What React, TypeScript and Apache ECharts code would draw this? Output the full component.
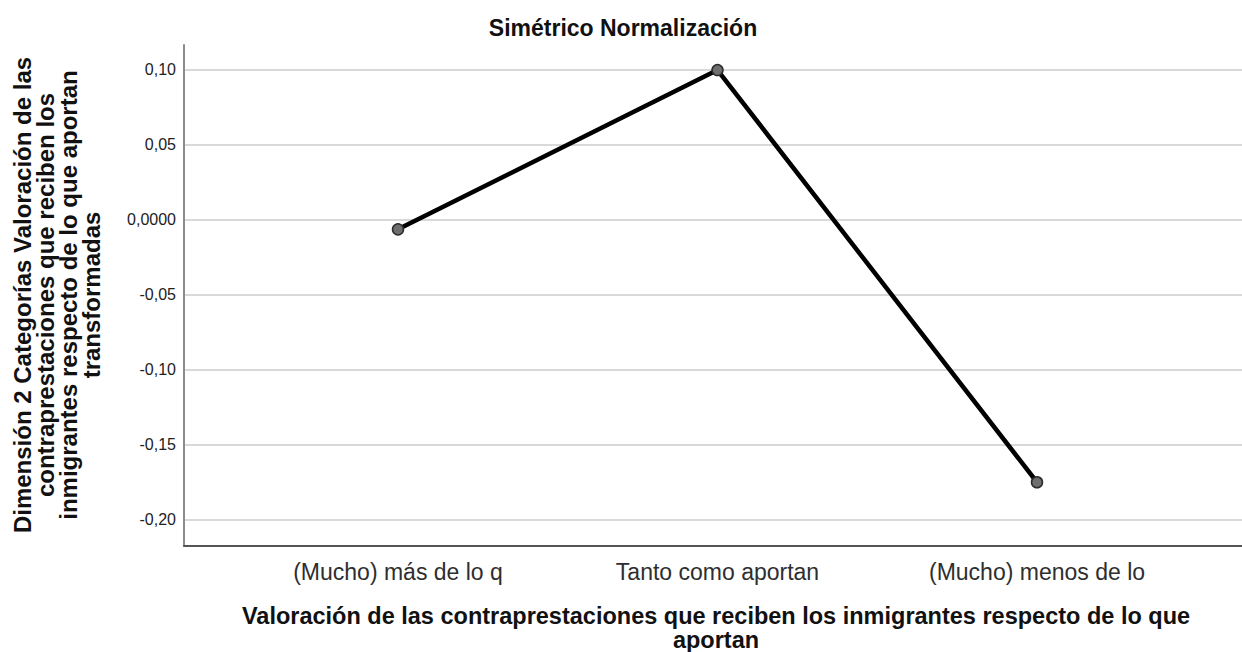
import React, { useEffect, useRef } from "react";
import * as echarts from "echarts";

const categories: string[] = [
  "(Mucho) más de lo q",
  "Tanto como aportan",
  "(Mucho) menos de lo",
];
const values: number[] = [-0.0067, 0.0995, -0.1753];
const yTicks: number[] = [-0.2, -0.15, -0.1, -0.05, 0, 0.05, 0.1];
const chartTitle = "Simétrico Normalización";
const yTitle =
  "Dimensión 2 Categorías Valoración de las\ncontraprestaciones que reciben los\ninmigrantes respecto de lo que aportan\ntransformadas";
const xTitle =
  "Valoración de las contraprestaciones que reciben los inmigrantes respecto de lo que\naportan";

const FONT = '"Liberation Sans", Arial, Helvetica, sans-serif';

export default function App() {
  const ref = useRef<HTMLDivElement>(null);
  useEffect(() => {
    if (!ref.current) return;
    const chart = echarts.init(ref.current, undefined, { renderer: "svg" });
    const seriesData = values.map((v, i) => [i + 1, v]);
    chart.setOption({
      animation: false,
      backgroundColor: "#ffffff",
      textStyle: { fontFamily: FONT },
      grid: { left: 184, right: 0, top: 45, bottom: 106, containLabel: false },
      xAxis: {
        type: "value",
        min: 0.3302,
        max: 3.6416,
        axisLine: {
          show: true,
          onZero: false,
          lineStyle: { color: "#555555", width: 2 },
        },
        axisTick: { show: false },
        splitLine: { show: false },
        axisLabel: {
          customValues: [1, 2, 3],
          formatter: (v: number) => categories[Math.round(v) - 1] ?? "",
          fontSize: 23,
          color: "#2e2e2e",
          fontFamily: FONT,
          margin: 14,
        },
      },
      yAxis: {
        type: "value",
        min: -0.2178,
        max: 0.1162,
        axisLine: { show: true, onZero: false, lineStyle: { color: "#8c8c8c", width: 2 } },
        axisTick: { show: false, customValues: yTicks },
        splitLine: { show: true, lineStyle: { color: "#d9d9d9", width: 2 } },
        axisLabel: {
          customValues: yTicks,
          formatter: (v: number) =>
            Math.abs(v) < 1e-9 ? "0,0000" : v.toFixed(2).replace(".", ","),
          fontSize: 16,
          color: "#222222",
          fontFamily: FONT,
          margin: 8,
        },
      },
      graphic: [
        {
          type: "text",
          x: 623,
          y: 28,
          style: {
            text: chartTitle,
            font: `bold 23px ${FONT}`,
            fill: "#111111",
            textAlign: "center",
            textVerticalAlign: "middle",
          },
        },
        {
          type: "text",
          x: 57,
          y: 295,
          rotation: Math.PI / 2,
          style: {
            text: yTitle,
            font: `bold 24px ${FONT}`,
            fill: "#111111",
            textAlign: "center",
            textVerticalAlign: "middle",
            lineHeight: 23,
          },
        },
        {
          type: "text",
          x: 716,
          y: 628,
          style: {
            text: xTitle,
            font: `bold 23.5px ${FONT}`,
            fill: "#111111",
            textAlign: "center",
            textVerticalAlign: "middle",
            lineHeight: 23.5,
          },
        },
      ],
      series: [
        {
          type: "line",
          data: seriesData,
          lineStyle: { color: "#000000", width: 4.5 },
          symbol: "circle",
          symbolSize: 11,
          itemStyle: { color: "#6e6e6e", borderColor: "#2a2a2a", borderWidth: 1.5 },
          z: 5,
        },
      ],
    });
    return () => chart.dispose();
  }, []);
  return (
    <div
      ref={ref}
      style={{ position: "fixed", left: 0, top: 0, width: 1242, height: 652 }}
    />
  );
}
